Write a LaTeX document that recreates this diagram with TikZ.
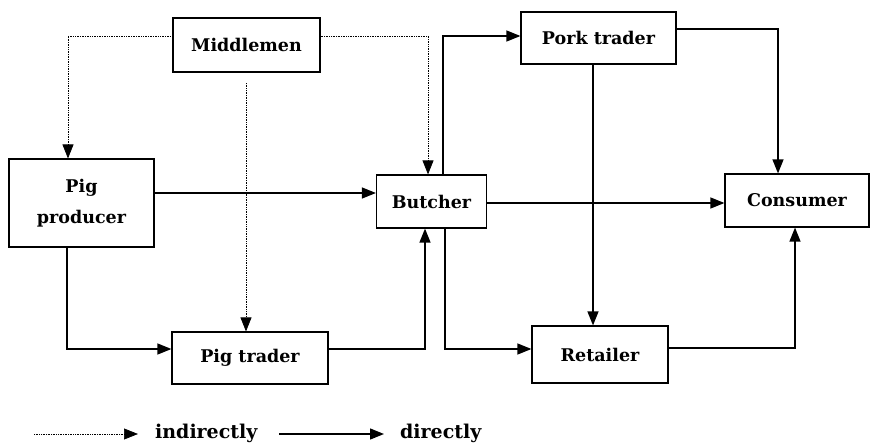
\documentclass[tikz,border=0pt]{standalone}
\usepackage{fontspec}
\setmainfont{DejaVu Serif}
\usetikzlibrary{arrows.meta,calc}
\begin{document}
\begin{tikzpicture}[x=1pt,y=-1pt,
  box/.style={draw,line width=1.2pt,inner sep=0pt,font=\fontsize{17.5}{21}\selectfont\bfseries,align=center},
  dir/.style={line width=1.3pt,-{Triangle[length=14pt,width=11pt]}},
  ind/.style={line width=0.7pt,densely dotted,-{Triangle[length=14pt,width=11pt]}},
  lbl/.style={font=\fontsize{19}{23}\selectfont\bfseries,inner sep=0pt}]
\useasboundingbox (0,0) rectangle (886,444);
\node[box,minimum width=147pt,minimum height=54pt] (mm) at (246.5,45) {Middlemen};
\node[box,minimum width=145pt,minimum height=88pt] (pp) at (81.5,203) {Pig\\[10pt]producer};
\node[box,minimum width=110pt,minimum height=53pt] (bu) at (431.5,201.5) {Butcher};
\node[box,minimum width=155pt,minimum height=52pt] (pk) at (598.5,38) {Pork trader};
\node[box,minimum width=144pt,minimum height=53pt] (co) at (797,200.5) {Consumer};
\node[box,minimum width=156pt,minimum height=52pt] (pt) at (250,358) {Pig trader};
\node[box,minimum width=136pt,minimum height=57pt] (re) at (600,354.5) {Retailer};
% indirect
\draw[ind] (mm.west |- 0,36) -| ($(pp.north)+(-13.5,0)$);
\draw[ind] (mm.east |- 0,36) -| ($(bu.north)+(-3.5,0)$);
\coordinate (mmgap) at (246,83);
\draw[ind] (mmgap) -- (mmgap |- pt.north);
% direct
\draw[dir] (pp.east |- 0,193) -- (bu.west |- 0,193);
\draw[dir] ($(pp.south)+(-14.5,0)$) |- (pt.west |- 0,349);
\draw[dir] (pt.east |- 0,349) -| ($(bu.south)+(-6.5,0)$);
\draw[dir] ($(bu.south)+(13.5,0)$) |- (re.west |- 0,349);
\draw[dir] ($(bu.north)+(11.5,0)$) |- (pk.west |- 0,36);
\draw[dir] (pk.east |- 0,29) -| ($(co.north)+(-19,0)$);
\draw[dir] (bu.east |- 0,203) -- (co.west |- 0,203);
\draw[dir] ($(pk.south)+(-5.5,0)$) -- ($(re.north)+(-7,0)$);
\draw[dir] (re.east |- 0,348) -| ($(co.south)+(-2,0)$);
% legend
\coordinate (l1) at (34,434);
\coordinate (l2) at (138,434);
\draw[ind] (l1) -- (l2);
\node[lbl,anchor=base west] (ti) at (155,438) {indirectly};
\coordinate (l3) at (279,434);
\coordinate (l4) at (384,434);
\draw[dir] (l3) -- (l4);
\node[lbl,anchor=base west] (td) at (400,438) {directly};
\end{tikzpicture}
\end{document}
